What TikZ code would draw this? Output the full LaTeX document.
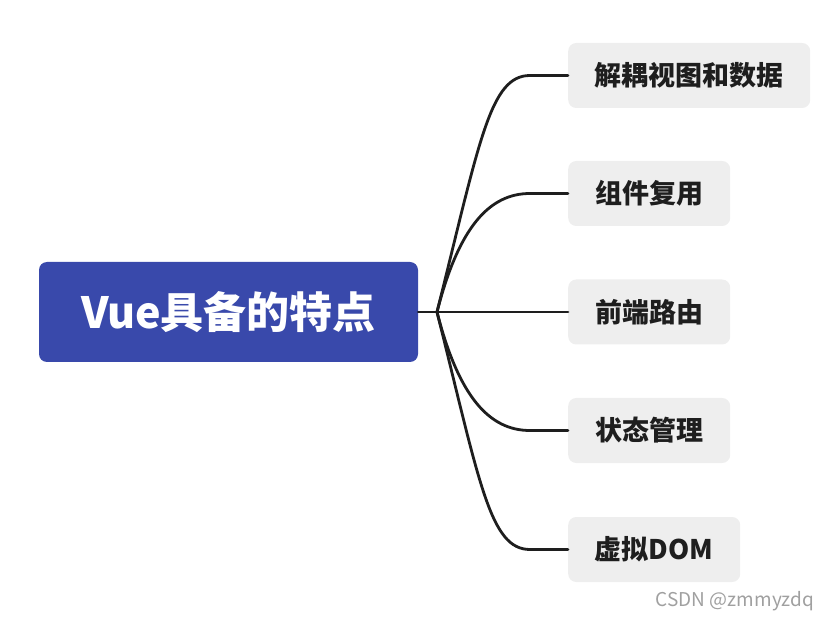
\documentclass[tikz,border=0pt]{standalone}
\usepackage{fontspec}
\newfontfamily\cjk{Noto Sans CJK SC}
\definecolor{rootblue}{HTML}{3949AB}
\definecolor{leafgray}{HTML}{EEEEEE}
\definecolor{linecol}{HTML}{1E1E1E}
\definecolor{wmgray}{HTML}{A0A0A0}
\tikzset{
  rootbox/.style={fill=rootblue, rounded corners=8pt, inner sep=0pt, minimum width=379pt, minimum height=100pt, text=white, font=\cjk\bfseries\fontsize{43}{50}\selectfont},
  leafbox/.style={fill=leafgray, rounded corners=8pt, inner sep=0pt, minimum height=65pt, anchor=west, text=linecol, font=\cjk\bfseries\fontsize{27}{32}\selectfont},
  conn/.style={draw=linecol, line width=2.8pt, line cap=round},
}
\begin{document}
\begin{tikzpicture}[x=1pt, y=-1pt]
\useasboundingbox (0,0) rectangle (828,620);
\node[rootbox] (root) at (228.5,312) {Vue具备的特点};
\coordinate (j) at (437,312);
\node[leafbox, minimum width=242pt] (n1) at (568,75.5) {解耦视图和数据};
\node[leafbox, minimum width=162pt] (n2) at (568,193.5) {组件复用};
\node[leafbox, minimum width=162pt] (n3) at (568,312) {前端路由};
\node[leafbox, minimum width=162pt] (n4) at (568,430.5) {状态管理};
\node[leafbox, minimum width=172pt] (n5) at (568,549.5) {虚拟DOM};
\draw[conn] (root.east) -- (j);
\draw[conn] (j) .. controls +(43,-172) and +(-40,0) .. ([xshift=-38pt]n1.west) -- (n1.west);
\draw[conn] (j) .. controls +(22,-86) and +(-40,0) .. ([xshift=-38pt]n2.west) -- (n2.west);
\draw[conn] (j) -- (n3.west);
\draw[conn] (j) .. controls +(22,86) and +(-40,0) .. ([xshift=-38pt]n4.west) -- (n4.west);
\draw[conn] (j) .. controls +(43,172) and +(-40,0) .. ([xshift=-38pt]n5.west) -- (n5.west);
\node[anchor=east, text=wmgray, inner sep=0pt, font=\cjk\fontsize{19}{21}\selectfont] (wm) at (814,601) {CSDN @zmmyzdq};
\end{tikzpicture}
\end{document}
